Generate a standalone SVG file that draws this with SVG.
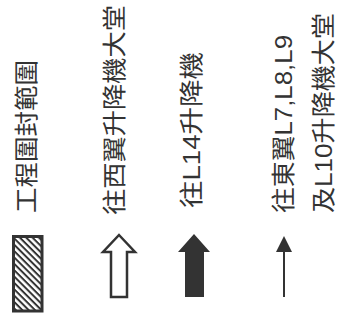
<svg xmlns="http://www.w3.org/2000/svg" width="344" height="326" viewBox="0 0 344 326">
<defs>
<pattern id="hatch" patternUnits="userSpaceOnUse" width="4.5" height="4.5" patternTransform="rotate(45)">
<rect x="0" y="0" width="4.5" height="2" fill="#333"/>
</pattern>
</defs>
<style>
.t{font-family:"Liberation Sans","Noto Sans CJK TC",sans-serif;font-size:24px;fill:#333;dominant-baseline:central}
.sym{stroke:#333;stroke-linejoin:miter}
</style>
<rect width="344" height="326" fill="#fff"/>
<g id="legend-enclosure">
<rect class="sym" x="13.5" y="236.5" width="28.5" height="74.5" fill="url(#hatch)" stroke-width="3"/>
<text class="t" transform="translate(26,213) rotate(-90)" textLength="153" lengthAdjust="spacingAndGlyphs">工程圍封範圍</text>
</g>
<g id="legend-west">
<polygon class="sym" points="119,235 135,252 127,252 127,297 111,297 111,252 103,252" fill="#fff" stroke-width="2.5"/>
<text class="t" transform="translate(114.5,215) rotate(-90)" textLength="210" lengthAdjust="spacingAndGlyphs">往西翼升降機大堂</text>
</g>
<g id="legend-l14">
<polygon points="194,234 210,252 204,252 204,297 185,297 185,252 178,252" fill="#333"/>
<text class="t" transform="translate(191.5,208) rotate(-90)" textLength="156" lengthAdjust="spacingAndGlyphs">往L14升降機</text>
</g>
<g id="legend-east">
<line class="sym" x1="284" y1="250" x2="284" y2="297" stroke-width="2"/>
<polygon points="284,236 292,252 276,252" fill="#333"/>
<text class="t" transform="translate(283.5,213) rotate(-90)" textLength="178" lengthAdjust="spacingAndGlyphs">往東翼L7,L8,L9</text>
<text class="t" transform="translate(323.5,213) rotate(-90)" textLength="200" lengthAdjust="spacingAndGlyphs">及L10升降機大堂</text>
</g>
<g id="connectors"></g>
</svg>
